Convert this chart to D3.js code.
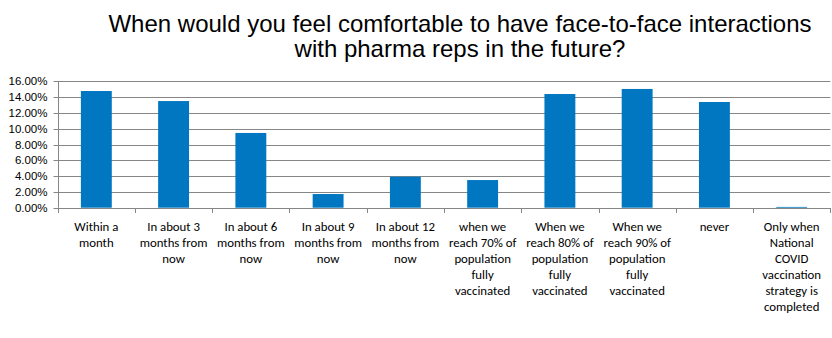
<!DOCTYPE html>
<html><head><meta charset="utf-8">
<script src="https://cdn.jsdelivr.net/npm/d3@7"></script>
<style>body{margin:0;background:#fff}svg{display:block}</style>
</head><body>
<svg id="c" width="832" height="338"></svg>
<script>
const titleLines = ["When would you feel comfortable to have face-to-face interactions", "with pharma reps in the future?"];
const categories = [
  ["Within a", "month"],
  ["In about 3", "months from", "now"],
  ["In about 6", "months from", "now"],
  ["In about 9", "months from", "now"],
  ["In about 12", "months from", "now"],
  ["when we", "reach 70% of", "population", "fully", "vaccinated"],
  ["When we", "reach 80% of", "population", "fully", "vaccinated"],
  ["When we", "reach 90% of", "population", "fully", "vaccinated"],
  ["never"],
  ["Only when", "National", "COVID", "vaccination", "strategy is", "completed"]
];
const values = [0.1477, 0.135, 0.0946, 0.0173, 0.0392, 0.035, 0.1439, 0.1503, 0.1338, 0.001];
const yTicks = [0, 0.02, 0.04, 0.06, 0.08, 0.10, 0.12, 0.14, 0.16];

const svg = d3.select("#c");
const pL = 57.7, pR = 830.3, pT = 81.3, pB = 207.7;
const idx = d3.range(categories.length);
const x = d3.scaleBand().domain(idx).range([pL, pR]).paddingInner(0.6).paddingOuter(0.3);
const xb = d3.scaleBand().domain(idx).range([pL, pR]);
const y = d3.scaleLinear().domain([0, 0.16]).range([pB, pT]);
const grey = "#868686";

// title
svg.append("g").selectAll("text").data(titleLines).join("text")
  .attr("x", 460).attr("y", (d, i) => 32 + i * 25)
  .attr("text-anchor", "middle")
  .attr("font-family", "Liberation Sans, Arial, sans-serif")
  .attr("font-size", 24).attr("fill", "#000").text(d => d);

// gridlines
svg.append("g").selectAll("line").data(yTicks.filter(d => d > 0)).join("line")
  .attr("x1", pL).attr("x2", pR)
  .attr("y1", d => Math.round(y(d)) + 0.5).attr("y2", d => Math.round(y(d)) + 0.5)
  .attr("stroke", grey).attr("stroke-width", 1);

// bars
svg.append("g").selectAll("rect").data(values).join("rect")
  .attr("x", (d, i) => x(i)).attr("width", x.bandwidth())
  .attr("y", d => y(d)).attr("height", d => pB - y(d))
  .attr("fill", "#0077C0");

// y axis
const yAxis = d3.axisLeft(y).tickValues(yTicks).tickSize(5).tickFormat(d3.format(".2%"));
const ya = svg.append("g").attr("transform", `translate(${Math.round(pL) + 0.5},0)`).call(yAxis);
ya.select(".domain").attr("stroke", grey).attr("d", `M0,${pT}V${pB}`);
ya.selectAll(".tick line").attr("stroke", grey);
ya.selectAll(".tick").attr("transform", d => `translate(0,${Math.round(y(d)) + 0.5})`);
ya.selectAll(".tick text").attr("x", -11).attr("fill", "#000")
  .attr("font-family", "Liberation Sans, Arial, sans-serif").attr("font-size", 11.5);

// x axis
const xa = svg.append("g");
xa.append("line").attr("x1", pL).attr("x2", pR)
  .attr("y1", Math.round(pB) + 0.5).attr("y2", Math.round(pB) + 0.5).attr("stroke", grey);
xa.selectAll("line.t").data(d3.range(categories.length + 1)).join("line").attr("class", "t")
  .attr("x1", i => Math.round(pL + i * xb.step()) + 0.5).attr("x2", i => Math.round(pL + i * xb.step()) + 0.5)
  .attr("y1", Math.round(pB)).attr("y2", Math.round(pB) + 5).attr("stroke", grey);

const lab = xa.selectAll("text.l").data(categories).join("text").attr("class", "l")
  .attr("text-anchor", "middle")
  .attr("font-family", "Carlito, Calibri, 'Open Sans', sans-serif")
  .attr("font-size", 12.8).attr("fill", "#000");
lab.selectAll("tspan").data((d, i) => d.map(s => ({ s, i }))).join("tspan")
  .attr("x", d => xb(d.i) + xb.bandwidth() / 2)
  .attr("y", (d, j) => 231 + j * 16)
  .text(d => d.s);
</script>
</body></html>
